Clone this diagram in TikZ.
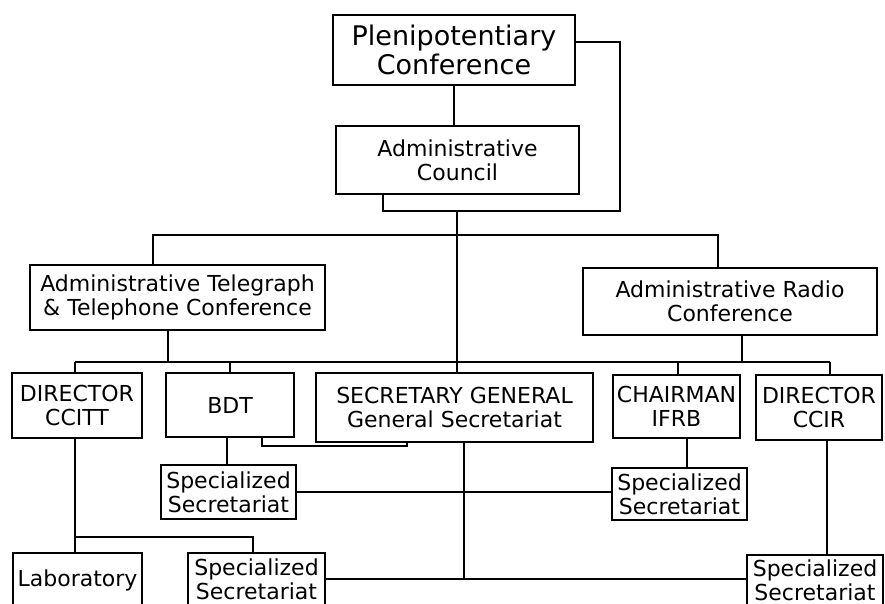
\documentclass[tikz,border=0pt]{standalone}
\usepackage{fontspec}
\setmainfont{DejaVu Sans}
\usetikzlibrary{calc}
\begin{document}
\begin{tikzpicture}[x=1pt,y=-1pt,
  line width=1.8pt,
  box/.style={draw, line width=1.8pt, inner sep=0pt, align=center,
    font=\fontsize{22}{24}\selectfont},
  link/.style={line width=1.8pt}]
\useasboundingbox (0,0) rectangle (885,604);
\clip (0,0) rectangle (885,604);
% nodes
\node[box, minimum width=242pt, minimum height=70pt, font=\fontsize{27}{29}\selectfont] (plen) at (454,50) {Plenipotentiary\\Conference};
\node[box, minimum width=243pt, minimum height=68pt] (council) at (457.5,160) {Administrative\\Council};
\node[box, minimum width=295pt, minimum height=65pt] (attc) at (177.5,297.5) {Administrative Telegraph\\\& Telephone Conference};
\node[box, minimum width=294pt, minimum height=67pt] (arc) at (730,301.5) {Administrative Radio\\Conference};
\node[box, minimum width=130pt, minimum height=65pt] (ccitt) at (77,405.5) {DIRECTOR\\CCITT};
\node[box, minimum width=128pt, minimum height=64pt] (bdt) at (230,405) {BDT};
\node[box, minimum width=277pt, minimum height=69pt] (sg) at (454.5,407.5) {SECRETARY GENERAL\\General Secretariat};
\node[box, minimum width=127pt, minimum height=63pt] (ifrb) at (676.5,406.5) {CHAIRMAN\\IFRB};
\node[box, minimum width=126pt, minimum height=65pt] (ccir) at (819,407.5) {DIRECTOR\\CCIR};
\node[box, minimum width=135pt, minimum height=54pt] (ss1) at (228.5,492) {Specialized\\Secretariat};
\node[box, minimum width=135pt, minimum height=52pt] (ss2) at (679.5,494) {Specialized\\Secretariat};
\node[box, minimum width=129pt, minimum height=54pt] (lab) at (77.5,580) {Laboratory};
\node[box, minimum width=137pt, minimum height=52pt] (ss3) at (256.5,579) {Specialized\\Secretariat};
\node[box, minimum width=136pt, minimum height=50pt] (ss4) at (815,580) {Specialized\\Secretariat};
% helper coordinates
\coordinate (loopR) at (620,211);
\coordinate (loopL) at (383,211);
\coordinate (trunk) at (457,211);
\coordinate (barAL) at (153,235);
\coordinate (barAR) at (718,235);
\coordinate (bdtA) at (262,446);
\coordinate (bdtB) at (407,446);
\coordinate (labBar) at (75,537);
\coordinate (labBarR) at (253,537);
\coordinate (sgDown) at (464,579);
% connectors
\draw[link] (plen.south) -- (plen.south |- council.north);
\draw[link] ([yshift=8pt]plen.east) -| (loopR) -- (loopL) -- (loopL |- council.south);
\draw[link] (trunk) -- (trunk |- sg.north);
\draw[link] (barAL |- attc.north) -- (barAL) -- (barAR) -- (barAR |- arc.north);
\draw[link] (75,362) -- (830,362);
\draw[link] (75,362) -- (75 ,0 |- ccitt.north);
\draw[link] (230,362) -- (230,0 |- bdt.north);
\draw[link] (678,362) -- (678,0 |- ifrb.north);
\draw[link] (830,362) -- (830,0 |- ccir.north);
\draw[link] (168,0 |- attc.south) -- (168,362);
\draw[link] (742,0 |- arc.south) -- (742,362);
\draw[link] (227,0 |- bdt.south) -- (227,0 |- ss1.north);
\draw[link] (bdtA |- bdt.south) -- (bdtA) -- (bdtB) -- (bdtB |- sg.south);
\draw[link] (ss1.east) -- (ss1.east -| ss2.west);
\draw[link] (687,0 |- ifrb.south) -- (687,0 |- ss2.north);
\draw[link] (labBar |- ccitt.south) -- (labBar |- lab.north);
\draw[link] (labBar) -- (labBarR) -- (labBarR |- ss3.north);
\draw[link] (ss3.east) -- (ss3.east -| ss4.west);
\draw[link] (sgDown |- sg.south) -- (sgDown);
\draw[link] (827,0 |- ccir.south) -- (827,0 |- ss4.north);
\end{tikzpicture}
\end{document}
